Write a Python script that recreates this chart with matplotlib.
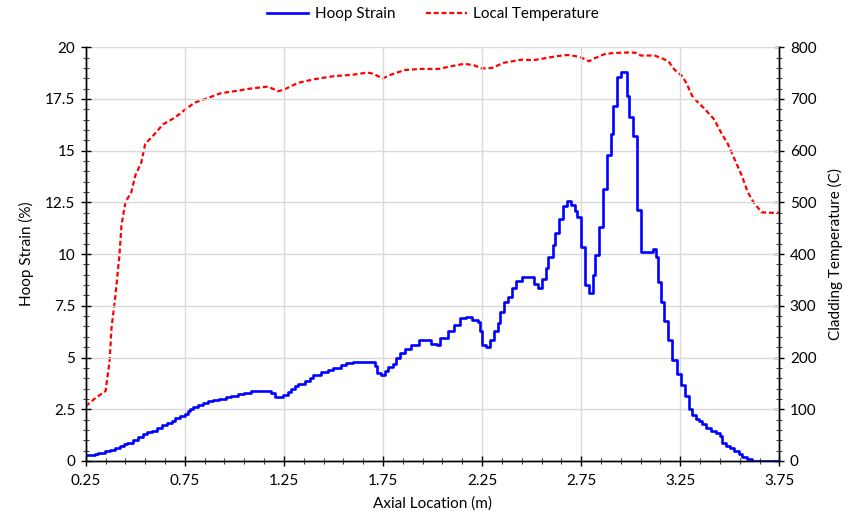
import matplotlib
matplotlib.use("Agg")
import matplotlib.pyplot as plt
from matplotlib.ticker import MultipleLocator

plt.rcParams['font.family'] = ['Lato', 'DejaVu Sans']

# Hoop strain (%) along the rod; each value holds from its x to the next x
strain_x = [0.25, 0.296, 0.312, 0.346, 0.371, 0.397, 0.422, 0.444, 0.456, 0.489, 0.515, 0.54,
            0.557, 0.582, 0.608, 0.633, 0.658, 0.683, 0.70, 0.725, 0.751, 0.765, 0.775, 0.79,
            0.815, 0.84, 0.866, 0.891, 0.924, 0.958, 0.983, 1.017, 1.051, 1.085, 1.186, 1.203,
            1.245, 1.270, 1.287, 1.304,
            1.321, 1.354, 1.380, 1.397, 1.439, 1.472, 1.498, 1.540, 1.565, 1.599, 1.708, 1.722,
            1.739, 1.759, 1.776, 1.801, 1.818, 1.835, 1.86, 1.89, 1.93, 1.99, 2.02, 2.04,
            2.08, 2.11, 2.14, 2.17, 2.20, 2.23, 2.24, 2.25, 2.27, 2.29, 2.31, 2.33,
            2.34, 2.36, 2.38, 2.40, 2.42, 2.45, 2.51, 2.53, 2.55, 2.57, 2.58, 2.61,
            2.62, 2.64, 2.66, 2.68, 2.70, 2.72, 2.73, 2.75, 2.77, 2.79, 2.81, 2.82,
            2.84, 2.86, 2.88, 2.90, 2.91, 2.93, 2.95, 2.98, 2.99, 3.01, 3.03, 3.05,
            3.11, 3.125, 3.14, 3.155, 3.17, 3.19, 3.21, 3.235, 3.256, 3.273, 3.293, 3.31,
            3.327, 3.344, 3.361, 3.378, 3.403, 3.428, 3.448, 3.462, 3.479, 3.499, 3.521, 3.546,
            3.563, 3.588, 3.614, 3.75]
strain_y = [0.27, 0.34, 0.40, 0.46, 0.53, 0.61, 0.72, 0.83, 0.88, 1.01, 1.14, 1.28,
            1.40, 1.47, 1.59, 1.73, 1.84, 1.92, 2.07, 2.17, 2.29, 2.41, 2.53, 2.63,
            2.69, 2.79, 2.89, 2.95, 3.01, 3.08, 3.14, 3.24, 3.30, 3.38, 3.28, 3.09,
            3.21, 3.33, 3.48, 3.61,
            3.74, 3.85, 4.01, 4.17, 4.28, 4.38, 4.49, 4.62, 4.73, 4.79, 4.57, 4.25,
            4.14, 4.36, 4.52, 4.68, 4.97, 5.21, 5.43, 5.62, 5.86, 5.65, 5.59, 5.94,
            6.29, 6.58, 6.90, 6.97, 6.82, 6.74, 6.29, 5.62, 5.49, 5.86, 6.26, 6.66,
            7.22, 7.67, 7.95, 8.35, 8.70, 8.91, 8.54, 8.35, 8.80, 9.31, 9.87, 10.43,
            11.04, 11.69, 12.33, 12.55, 12.36, 12.07, 11.80, 10.35, 8.51, 8.11, 8.99, 9.98,
            11.32, 13.13, 14.80, 15.81, 17.14, 18.57, 18.81, 17.66, 16.61, 15.70, 12.12, 10.08,
            10.24, 9.87, 8.64, 7.70, 6.77, 5.86, 4.90, 4.20, 3.69, 3.13, 2.53, 2.24,
            2.05, 1.92, 1.80, 1.60, 1.47, 1.36, 1.20, 0.88, 0.72, 0.61, 0.48, 0.32,
            0.19, 0.08, 0.0, 0.0]

# Local cladding temperature (C)
temp_x = [0.25, 0.30, 0.35, 0.37, 0.38, 0.40, 0.42, 0.43, 0.45, 0.48, 0.50, 0.53,
          0.55, 0.59, 0.64, 0.70, 0.75, 0.80, 0.86, 0.93, 1.00, 1.08, 1.17, 1.22,
          1.25, 1.32, 1.40, 1.50, 1.60, 1.67, 1.70, 1.725, 1.75, 1.79, 1.86, 1.94,
          2.03, 2.09, 2.16, 2.21, 2.25, 2.30, 2.36, 2.45, 2.51, 2.57, 2.63, 2.68,
          2.72, 2.75, 2.79, 2.82, 2.87, 2.92, 3.00, 3.03, 3.05, 3.12, 3.155, 3.19,
          3.22, 3.26, 3.28, 3.31, 3.34, 3.37, 3.42, 3.46, 3.49, 3.52, 3.56, 3.59,
          3.62, 3.66, 3.69, 3.75]
temp_y = [106, 122, 135, 192, 257, 321, 398, 455, 500, 520, 552, 577,
          613, 629, 651, 664, 679, 693, 701, 711, 715, 720, 724, 715,
          718, 731, 738, 744, 747, 751, 749, 744, 740, 747, 756, 758,
          758, 763, 768, 765, 759, 760, 770, 776, 775, 779, 783, 785,
          783, 780, 773, 779, 787, 789, 790, 789, 784, 784, 779, 773,
          757, 744, 731, 706, 693, 682, 661, 632, 613, 587, 552, 520,
          500, 481, 480, 480]

x_ticks = [0.25, 0.75, 1.25, 1.75, 2.25, 2.75, 3.25, 3.75]
x_tick_labels = ['0.25', '0.75', '1.25', '1.75', '2.25', '2.75', '3.25', '3.75']
strain_ticks = [0, 2.5, 5, 7.5, 10, 12.5, 15, 17.5, 20]
strain_tick_labels = ['0', '2.5', '5', '7.5', '10', '12.5', '15', '17.5', '20']

fig = plt.figure(figsize=(8.49, 5.25), dpi=100)
ax = fig.add_axes([0.101, 0.122, 0.817, 0.788])
ax2 = ax.twinx()

ax.set_zorder(ax2.get_zorder() + 1)
ax.patch.set_visible(False)

l1, = ax.plot(strain_x, strain_y, drawstyle='steps-post', color='#0000ff',
              lw=1.9, label='Hoop Strain')
l2, = ax2.plot(temp_x, temp_y, color='#ff0000', lw=1.6, ls=(0, (2.2, 1.3)),
               label='Local Temperature')

ax.set_xlim(0.25, 3.75)
ax.set_ylim(0, 20)
ax2.set_ylim(0, 800)

ax.set_xticks(x_ticks)
ax.set_xticklabels(x_tick_labels)
ax.set_xticks([0.25 + 0.1 * i for i in range(36)], minor=True)
ax.set_yticks(strain_ticks)
ax.set_yticklabels(strain_tick_labels)
ax.yaxis.set_minor_locator(MultipleLocator(0.5))
ax2.yaxis.set_major_locator(MultipleLocator(100))
ax2.yaxis.set_minor_locator(MultipleLocator(20))

ax.grid(True, which='major', color='#d9d9d9', lw=1.0)
ax.set_axisbelow(True)

for a in (ax, ax2):
    a.spines['top'].set_visible(False)
    for s in ('left', 'right', 'bottom'):
        a.spines[s].set_color('black')
        a.spines[s].set_linewidth(1.0)
    a.tick_params(which='major', direction='inout', length=7, width=1.0,
                  labelsize=11, colors='black')
    a.tick_params(which='minor', direction='inout', length=5, width=0.8,
                  colors='#404040')
ax.tick_params(axis='x', pad=6)
ax.tick_params(axis='y', pad=4)
ax2.tick_params(axis='y', pad=4)

ax.set_xlabel('Axial Location (m)', fontsize=11, labelpad=6)
ax.set_ylabel('Hoop Strain (%)', fontsize=11, labelpad=8)
ax2.set_ylabel('Cladding Temperature (C)', fontsize=11, labelpad=8)

fig.legend(handles=[l1, l2], loc='upper center', bbox_to_anchor=(0.51, 1.012),
           ncol=2, frameon=False, fontsize=11, handlelength=2.7,
           columnspacing=2.0, handletextpad=0.4)

fig.savefig('out.png', dpi=100)
